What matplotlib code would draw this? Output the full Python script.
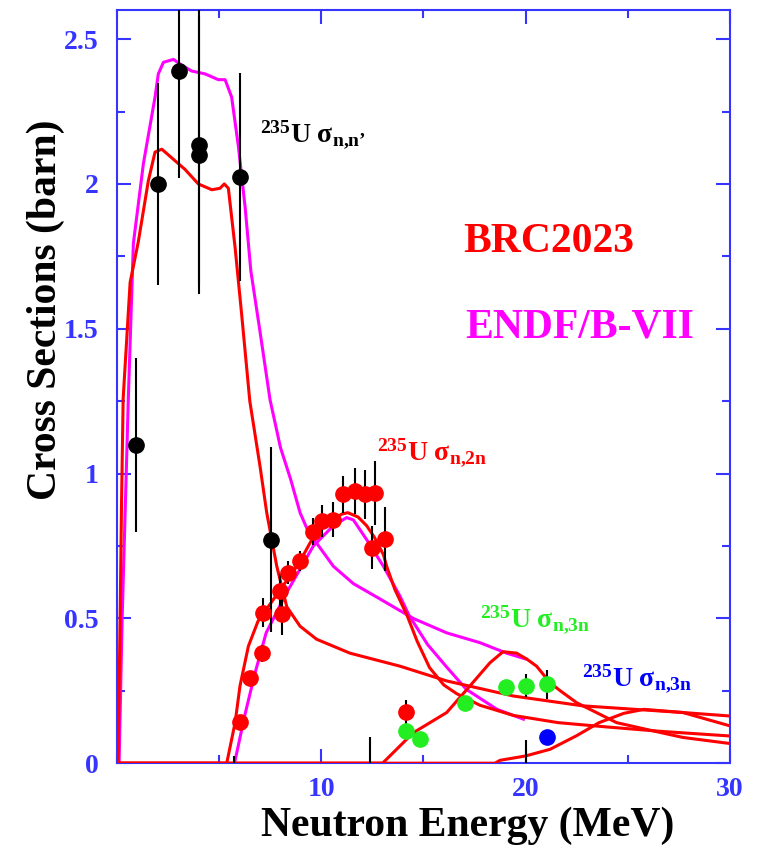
import numpy as np
import matplotlib.pyplot as plt
from matplotlib.ticker import MultipleLocator

plt.rcParams['font.family'] = ['Liberation Serif', 'DejaVu Serif']
plt.rcParams['font.weight'] = 'bold'
plt.rcParams['mathtext.fontset'] = 'custom'
plt.rcParams['mathtext.rm'] = 'Liberation Serif:bold'
plt.rcParams['mathtext.it'] = 'Liberation Serif:bold'
plt.rcParams['mathtext.bf'] = 'Liberation Serif:bold'

# experimental points (MeV, barn)
nn_E = [0.93, 2.0, 3.03, 4.01, 4.01, 6.02, 7.54]
nn_s = [1.10, 2.00, 2.39, 2.134, 2.10, 2.024, 0.772]
nn_err = [0.30, 0.35, 0.37, 0.48, 0.48, 0.36, 0.32]

n2n_E = [6.02, 6.51, 7.10, 7.13, 8.06, 7.98, 8.38, 8.96, 9.61, 10.02, 10.57,
         11.08, 11.65, 12.14, 12.63, 13.12, 12.47, 14.15]
n2n_s = [0.141, 0.293, 0.379, 0.52, 0.514, 0.594, 0.658, 0.698, 0.80, 0.835, 0.841,
         0.928, 0.939, 0.928, 0.933, 0.775, 0.744, 0.177]
n2n_err = [0.02, 0.02, 0.03, 0.05, 0.07, 0.06, 0.04, 0.035, 0.045, 0.055, 0.06,
           0.065, 0.08, 0.085, 0.11, 0.11, 0.075, 0.04]

n3n_E = [14.15, 14.83, 17.03, 19.03, 20.02, 21.03]
n3n_s = [0.111, 0.085, 0.207, 0.263, 0.267, 0.272]
n3n_err = [0.0, 0.0, 0.0, 0.0, 0.04, 0.05]

n4n_E = [21.03]
n4n_s = [0.089]
n4n_err = [0.02]

# error bars whose points sit below zero
low_E = [5.74, 12.4, 20.0]
low_top = [0.025, 0.09, 0.08]

# BRC2023 evaluations
brc_nn_E = [0.0, 0.05, 0.15, 0.22, 0.30, 0.64, 1.04, 1.53, 1.86, 2.19, 2.68, 3.33, 3.98,
            4.64, 5.04, 5.25, 5.45, 5.78, 6.10, 6.50, 7.0, 7.33, 7.82, 8.31, 8.96,
            9.77, 11.4, 13.85, 16.14, 19.4, 22.8, 27.7, 30.0]
brc_nn_s = [0.0, 0.0, 0.5, 0.9, 1.26, 1.66, 1.80, 2.01, 2.11, 2.12, 2.09, 2.05, 2.0,
            1.98, 1.985, 2.0, 1.985, 1.78, 1.55, 1.25, 1.025, 0.864, 0.68, 0.54, 0.473,
            0.428, 0.38, 0.335, 0.284, 0.232, 0.198, 0.175, 0.163]

brc_2n_E = [0.0, 5.37, 5.78, 6.02, 6.43, 6.9, 7.3, 8.0, 8.9, 9.6, 10.3, 11.0, 11.3,
            11.8, 12.22, 12.6, 13.04, 13.2, 13.6, 14.2, 14.7, 15.3, 16.0, 16.63,
            17.77, 19.4, 21.6, 24.0, 26.6, 30.0]
brc_2n_s = [0.0, 0.0, 0.14, 0.267, 0.404, 0.49, 0.53, 0.60, 0.69, 0.78, 0.83, 0.86,
            0.865, 0.85, 0.82, 0.78, 0.72, 0.68, 0.60, 0.51, 0.42, 0.33, 0.27, 0.24,
            0.20, 0.165, 0.14, 0.125, 0.11, 0.094]

brc_3n_E = [0.0, 13.0, 14.5, 16.14, 17.28, 18.26, 18.9, 19.56, 20.05, 20.54, 21.2,
            21.7, 22.5, 24.46, 26.6, 27.7, 30.0]
brc_3n_s = [0.0, 0.0, 0.105, 0.175, 0.267, 0.347, 0.385, 0.38, 0.36, 0.335, 0.278,
            0.25, 0.209, 0.14, 0.106, 0.089, 0.068]

brc_4n_E = [0.0, 18.5, 18.75, 20.0, 21.2, 22.5, 23.6, 24.8, 25.8, 27.7, 30.0]
brc_4n_s = [0.0, 0.0, 0.01, 0.025, 0.048, 0.095, 0.14, 0.172, 0.186, 0.175, 0.129]

# ENDF/B-VII evaluations
endf_nn_E = [0.1, 0.25, 0.45, 0.55, 0.8, 1.29, 1.86, 2.02, 2.27, 2.76, 3.17, 3.65,
             4.31, 4.96, 5.29, 5.61, 5.94, 6.27, 6.55, 7.0, 7.49, 8.0, 8.5, 8.96,
             9.36, 9.77, 10.59, 11.57, 12.9, 14.5, 16.14, 17.77, 19.07, 20.0]
endf_nn_s = [0.0, 0.5, 1.0, 1.255, 1.795, 2.07, 2.30, 2.38, 2.42, 2.43, 2.41, 2.39,
             2.38, 2.36, 2.36, 2.30, 2.13, 1.92, 1.70, 1.49, 1.255, 1.09, 0.98, 0.865,
             0.80, 0.76, 0.68, 0.62, 0.566, 0.50, 0.45, 0.416, 0.38, 0.36]

endf_2n_E = [5.75, 6.27, 6.75, 7.3, 8.31, 9.61, 10.59, 11.24, 11.57, 12.22, 13.04,
             13.85, 14.3, 15.2, 16.1, 17.1, 18.6, 19.9]
endf_2n_s = [0.0, 0.17, 0.31, 0.45, 0.59, 0.75, 0.82, 0.848, 0.84, 0.772, 0.68,
             0.577, 0.51, 0.41, 0.335, 0.255, 0.186, 0.152]

RED = '#ff0000'
MAG = '#ff00ff'
GRN = '#22ee22'
BLU = '#0000ff'
AXC = '#3535ff'

fig = plt.figure(figsize=(7.65, 8.48), dpi=100)
ax = fig.add_axes([0.153, 0.1, 0.801, 0.888])

lw = 2.2
ax.plot(endf_nn_E, endf_nn_s, color=MAG, lw=lw, zorder=2)
ax.plot(endf_2n_E, endf_2n_s, color=MAG, lw=lw, zorder=2)
for E, s in [(brc_nn_E, brc_nn_s), (brc_2n_E, brc_2n_s),
             (brc_3n_E, brc_3n_s), (brc_4n_E, brc_4n_s)]:
    ax.plot(E, s, color=RED, lw=lw, zorder=3)

ax.vlines(low_E, 0, low_top, color='black', lw=1.5, zorder=4)

for E, s, err, c in [(nn_E, nn_s, nn_err, 'black'), (n2n_E, n2n_s, n2n_err, RED),
                     (n3n_E, n3n_s, n3n_err, GRN), (n4n_E, n4n_s, n4n_err, BLU)]:
    ax.errorbar(E, s, yerr=err, fmt='none', ecolor='black', elinewidth=1.5,
                capsize=0, zorder=4)
    ax.plot(E, s, 'o', color=c, ms=11, mec=c, zorder=5)

ax.set_xlim(0, 30)
ax.set_ylim(0, 2.6)
ax.xaxis.set_minor_locator(MultipleLocator(5))
ax.yaxis.set_minor_locator(MultipleLocator(0.25))
ax.set_xticks([10, 20, 30])
ax.set_yticks([0, 0.5, 1, 1.5, 2, 2.5])
ax.set_yticklabels(['0', '0.5', '1', '1.5', '2', '2.5'])
ax.tick_params(which='both', direction='in', top=True, right=True,
               colors=AXC, labelsize=20, width=1.5)
ax.tick_params(which='major', length=10)
ax.tick_params(which='minor', length=6)
ax.tick_params(axis='x', pad=10)
ax.tick_params(axis='y', pad=13)
for lab in ax.get_xticklabels() + ax.get_yticklabels():
    lab.set_fontweight('bold')
for sp in ax.spines.values():
    sp.set_color(AXC)
    sp.set_linewidth(1.5)

fig.text(468 / 765, 1 - 826 / 848, 'Neutron Energy (MeV)', fontsize=30,
         fontweight='bold', ha='center', va='center')
fig.text(46 / 765, 1 - 310 / 848, 'Cross Sections (barn)', fontsize=30,
         fontweight='bold', ha='center', va='center', rotation=90)

ax.text(16.94, 1.766, 'BRC2023', color=RED, fontsize=30, fontweight='bold')
ax.text(17.03, 1.469, 'ENDF/B-VII', color=MAG, fontsize=30, fontweight='bold')
ax.text(7.0, 2.145, '$^{235}$U σ$_{n{,}n’}$', color='black', fontsize=20)
ax.text(12.73, 1.048, '$^{235}$U σ$_{n{,}2n}$', color=RED, fontsize=20)
ax.text(17.77, 0.469, '$^{235}$U σ$_{n{,}3n}$', color=GRN, fontsize=20)
ax.text(22.76, 0.266, '$^{235}$U σ$_{n{,}3n}$', color=BLU, fontsize=20)

fig.savefig('out.png', dpi=100)
